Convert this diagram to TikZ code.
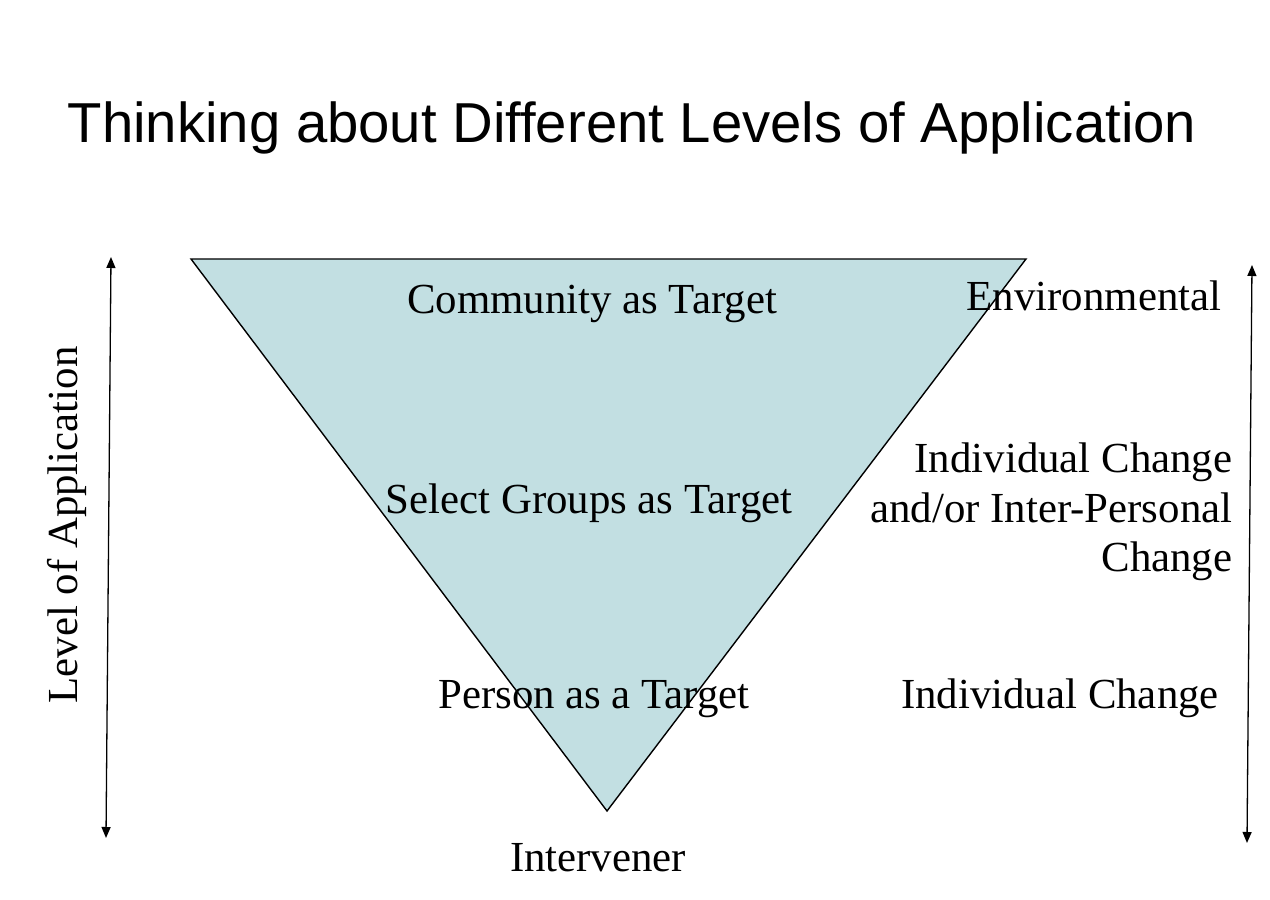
\documentclass[tikz,border=0pt]{standalone}
\usepackage{fontspec}
\setmainfont{Liberation Serif}
\newfontfamily\headfont{Liberation Sans}
\usetikzlibrary{arrows.meta, positioning}
\definecolor{lvlFill}{RGB}{194,223,226}
\tikzset{
  % one picture unit is one pixel of the slide
  every picture/.append style = {x=1bp, y=1bp, line width=1.3bp},
  levelaxis/.style = {{Triangle[length=11bp,width=9bp]}-{Triangle[length=11bp,width=9bp]}, black},
  lbl/.style       = {font=\fontsize{43}{50}\selectfont, inner sep=0pt},
  ttl/.style       = {font=\headfont\fontsize{56.5}{64}\selectfont, inner sep=0pt},
  funnel/.style    = {draw=black, fill=lvlFill, line width=1.4bp, line join=miter},
}

\begin{document}
\begin{tikzpicture}
\useasboundingbox (0,0) rectangle (1270,900);

% ---- title ---------------------------------------------------------------
\node[ttl, anchor=base] (title) at (632,757) {Thinking about Different Levels of Application};

% ---- inverted triangle ---------------------------------------------------
\coordinate (tl) at (191,641);
\coordinate (tr) at (1026,641);
\coordinate (tip) at (607,89);
\draw[funnel] (tl) -- (tr) -- (tip) -- cycle;

\node[lbl, anchor=base] (comm) at (592,586) {Community as Target};
\node[lbl, anchor=base] (grp)  at (589,386) {Select Groups as Target};
\node[lbl, anchor=base] (pers) at (594,191) {Person as a Target};
\node[lbl, anchor=base] (intv) at (598,28)  {Intervener};

% ---- left axis -----------------------------------------------------------
\coordinate (lTop) at (111,643);
\coordinate (lBot) at (106,62);
\draw[levelaxis] (lBot) -- (lTop);
\node[lbl, rotate=90, anchor=base] (lvl) at (77,375) {Level of Application};

% ---- right side: kinds of change -----------------------------------------
\coordinate (rTop) at (1252,635);
\coordinate (rBot) at (1247,57);
\draw[levelaxis] (rBot) -- (rTop);
\node[lbl, anchor=base] (env) at (1094,589) {Environmental};
\node[lbl, anchor=north east, align=right] (inter) at (1233,458)
  {Individual Change\\and/or Inter-Personal\\Change};
\node[lbl, anchor=base] (indiv) at (1060,191) {Individual Change};
\end{tikzpicture}
\end{document}
